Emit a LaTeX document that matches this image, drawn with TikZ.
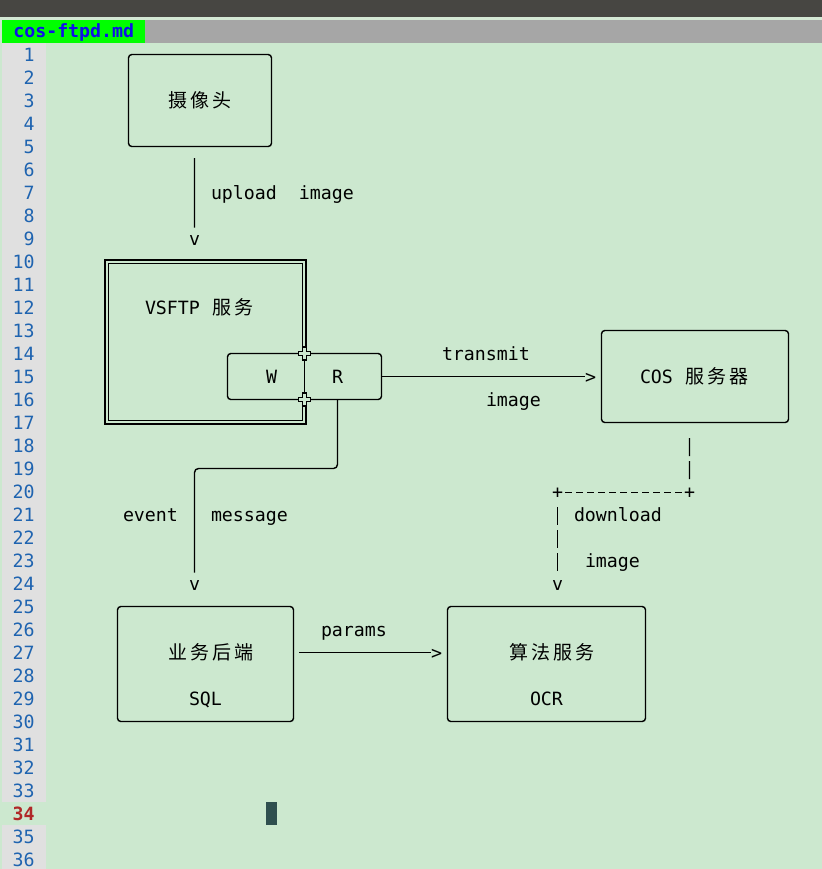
\documentclass[tikz,border=0pt]{standalone}
\usepackage{fontspec}
\setmonofont{DejaVu Sans Mono}
\newfontfamily\cjkfont{Noto Sans CJK SC}
\usetikzlibrary{calc,fit}
\newcommand\monof{\ttfamily\fontsize{13.7pt}{16pt}\selectfont}
\newcommand\zh[1]{\makebox[16.5pt]{\cjkfont\fontsize{14.25pt}{16pt}\selectfont #1}}
\definecolor{bgc}{HTML}{CCE8CF}
\definecolor{topc}{HTML}{474642}
\definecolor{stripc}{HTML}{D4E8D4}
\definecolor{tabgray}{HTML}{A6A6A6}
\definecolor{tabgreen}{HTML}{00FF00}
\definecolor{tabblue}{HTML}{1010E8}
\definecolor{gutc}{HTML}{E0E0E0}
\definecolor{lnblue}{HTML}{1F64B0}
\definecolor{lnred}{HTML}{B02828}
\definecolor{cursorc}{HTML}{2F4F4F}
\tikzset{
  txt/.style={anchor=base west, inner sep=0pt, outer sep=0pt, font=\monof, text=black},
  boxn/.style={draw, line width=1.05pt, rounded corners=2.5pt, inner sep=0pt, outer sep=0pt},
  conn/.style={line width=1.05pt},
  vbar/.style={conn, dash pattern=on 13.5pt off 3.75pt},
  dashl/.style={conn, dash pattern=on 5.25pt off 3pt, dash phase=6.75pt},
  crossmark/.style={fill=bgc, draw=black, line width=0.8pt},
}
\begin{document}
\begin{tikzpicture}[x=0.75pt,y=-0.75pt]
\useasboundingbox (0,0) rectangle (822,869);
% editor chrome
\fill[bgc] (0,0) rectangle (822,869);
\fill[topc] (0,0) rectangle (822,17.3);
\fill[stripc] (0,17.3) rectangle (822,20);
\fill[tabgray] (145,20) rectangle (822,43);
\fill[tabgreen] (2,20) rectangle (145,43);
\node[anchor=base west, inner sep=0pt, font=\monof\bfseries, text=tabblue] (tab) at (13,37.5) {cos-ftpd.md};
\fill[gutc] (2,43) rectangle (46,802);
\fill[gutc] (2,825) rectangle (46,869);
\foreach \n in {1,...,36}{
  \ifnum\n=34
    \node[anchor=base east, inner sep=0pt, font=\monof\bfseries, text=lnred] (ln\n) at (35,{61+23*(\n-1)}) {\n};
  \else
    \node[anchor=base east, inner sep=0pt, font=\monof, text=lnblue] (ln\n) at (35,{61+23*(\n-1)}) {\n};
  \fi
}
\fill[cursorc] (266,802) rectangle (277,825);

% boxes
\node[boxn, fit={(128.5,54.5) (271.5,146.5)}] (cam) {};
\node[draw, line width=1.05pt, inner sep=0pt, outer sep=0pt, fit={(105,260) (306,424)}] (vsftp) {};
\draw[conn] ($(vsftp.north west)+(3.5,3.5)$) rectangle ($(vsftp.south east)+(-3.5,-3.5)$);
\node[boxn, fit={(227.5,353.5) (381.5,399.5)}] (wr) {};
% single divider between W and R, where the double edge is interrupted
\fill[bgc] ($(wr.north)+(-3.4,2)$) rectangle ($(wr.south)+(3.4,-2)$);
\draw[conn] (wr.north) -- (wr.south);
\foreach \a in {north,south}{
  \draw[crossmark, shift={(wr.\a)}] (-1.9,-6.5) -- (1.9,-6.5) -- (1.9,-1.8) -- (5.8,-1.8) -- (5.8,1.8) -- (1.9,1.8) -- (1.9,6.5) -- (-1.9,6.5) -- (-1.9,1.8) -- (-5.8,1.8) -- (-5.8,-1.8) -- (-1.9,-1.8) -- cycle;
}
\node[boxn, fit={(601.5,330.5) (788.5,422.5)}] (cos) {};
\node[boxn, fit={(117.5,606.5) (293.5,721.5)}] (biz) {};
\node[boxn, fit={(447.5,606.5) (645.5,721.5)}] (algo) {};

% texts
\node[txt] (camT) at (167,107) {\zh{摄}\zh{像}\zh{头}};
\node[txt] (upT) at (211,199) {upload\ \ image};
\node[txt] (v1) at (189,245) {v};
\node[txt] (vsT) at (145,314) {VSFTP\ \zh{服}\zh{务}};
\node[txt] (wT) at (266,383) {W};
\node[txt] (rT) at (332,383) {R};
\node[txt] (trT) at (442,360) {transmit};
\node[txt] (imT) at (486,406) {image};
\node[txt] (gt1) at (585,383) {>};
\node[txt] (cosT) at (640,383) {COS\ \zh{服}\zh{务}\zh{器}};
\node[txt] (p1) at (552,498) {+};
\node[txt] (p2) at (684,498) {+};
\node[txt] (dlT) at (574,521) {download};
\node[txt] (im2T) at (585,567) {image};
\node[txt] (v2) at (552,590) {v};
\node[txt] (evT) at (123,521) {event};
\node[txt] (msT) at (211,521) {message};
\node[txt] (v3) at (189,590) {v};
\node[txt] (paT) at (321,636) {params};
\node[txt] (gt2) at (431,659) {>};
\node[txt] (bizT) at (167,659) {\zh{业}\zh{务}\zh{后}\zh{端}};
\node[txt] (sqlT) at (189,705) {SQL};
\node[txt] (algoT) at (508,659) {\zh{算}\zh{法}\zh{服}\zh{务}};
\node[txt] (ocrT) at (530,705) {OCR};

% connectors
\draw[conn] ($(cam.south)+(-5.5,11.5)$) -- ($(v1.north)+(0,-7.5)$);
\draw[conn] (wr.east) -- (wr.east -| gt1.west);
\draw[conn, rounded corners=3pt] ($(wr.south)+(33,0)$) -- ++(0,69) -| ($(v3.north)+(0,-7.5)$);
\draw[vbar] ($(cos.south)+(-5.5,15.5)$) -- ($(p2.north)+(0,-7)$);
\draw[dashl] (p1.east) -- (p2.west);
\draw[vbar] ($(p1.south)+(0,9)$) -- ($(v2.north)+(0,-7.5)$);
\draw[conn] ($(biz.east)+(5.5,-11.5)$) coordinate (ps) -- (ps -| gt2.west);
\end{tikzpicture}
\end{document}
